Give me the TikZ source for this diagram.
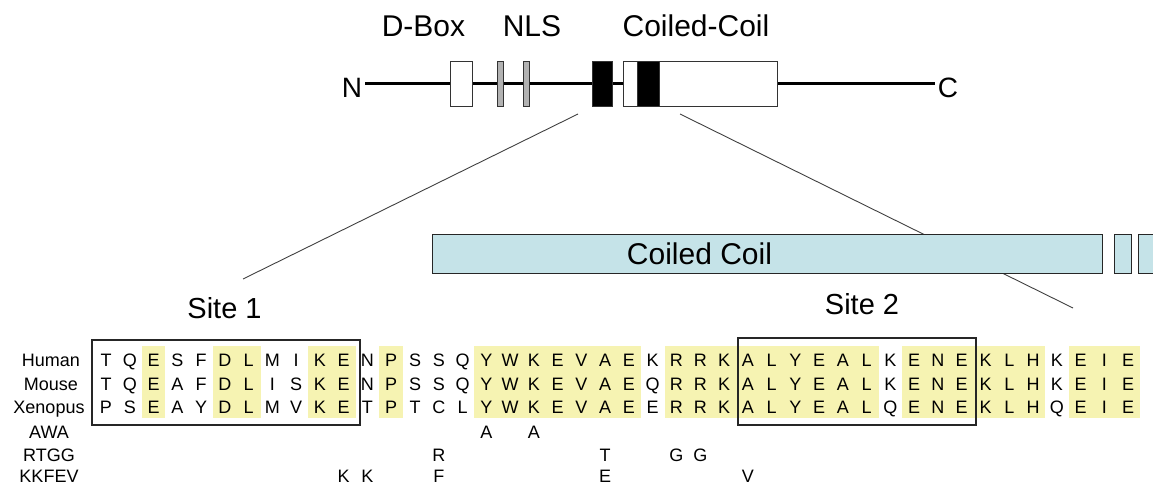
\documentclass[tikz,border=0pt]{standalone}
\usepackage{fontspec}
\setmainfont{Liberation Sans}
\usepackage{tikz}
\definecolor{hilite}{RGB}{246,243,178}
\definecolor{ccblue}{RGB}{197,227,232}
\definecolor{nlsgray}{RGB}{178,178,178}
\newcommand{\colx}[1]{106+23.77*(#1)}

\begin{document}
\begin{tikzpicture}[x=1pt, y=-1pt,
    domainbox/.style={rectangle, draw=black!80, fill=white, line width=0.9pt,
                   inner sep=0pt, minimum height=45pt},
    bigtext/.style={font=\fontsize{30}{34}\selectfont, anchor=base, inner sep=0pt},
    res/.style={font=\fontsize{18}{20}\selectfont, anchor=base, inner sep=0pt},
    sitebox/.style={rectangle, draw=black!85, line width=1.1pt, inner sep=0pt},
    bar/.style={rectangle, draw=black!85, fill=ccblue, line width=1pt,
                inner sep=0pt, minimum height=39pt},
    zoomline/.style={black!75, line width=0.9pt}
  ]
    \useasboundingbox (0,0) rectangle (1153,487);

    % protein overview
    \node[bigtext, font=\fontsize{28}{32}\selectfont] (nterm) at (352,97) {N};
    \node[bigtext, font=\fontsize{28}{32}\selectfont] (cterm) at (948,97) {C};
    \coordinate (mid) at (461,83.5);
    \draw[line width=3pt] ([xshift=3pt]nterm.east |- mid) -- ([xshift=-3pt]cterm.west |- mid);
    \node[domainbox, minimum width=22pt] (dbox) at (461,83.5) {};
    \node[domainbox, fill=nlsgray, minimum width=6pt] (nls1) at (500,83.5) {};
    \node[domainbox, fill=nlsgray, minimum width=6pt] (nls2) at (526,83.5) {};
    \node[domainbox, fill=black, minimum width=20pt] (site1blk) at (602,83.5) {};
    \node[domainbox, minimum width=154pt] (ccdom) at (700,83.5) {};
    \node[domainbox, fill=black, minimum width=22pt] (site2blk) at (648,83.5) {};

    \node[bigtext] (dboxlab) at (423.5,37) {D-Box};
    \node[bigtext] (nlslab) at (532,37) {NLS};
    \node[bigtext] (cclab) at (696,37) {Coiled-Coil};

    % zoom lines
    \coordinate (z1top) at (578,114);
    \coordinate (z1bot) at (243,279);
    \coordinate (z2top) at (680,114);
    \coordinate (z2bot) at (1073,308);
    \draw[zoomline] (z1top) -- (z1bot);
    \draw[zoomline] (z2top) -- (z2bot);

    % coiled coil bar
    \node[bar, minimum width=670pt] (ccbar) at (767,253.5) {};
    \node[bar, minimum width=17pt] (ccbar2) at (1122.5,253.5) {};
    \node[bar, minimum width=30pt] (ccbar3) at (1153,253.5) {};
    \node[bigtext] (ccname) at (699.5,264) {Coiled Coil};

    \node[bigtext, font=\fontsize{29}{32}\selectfont] (site1) at (224.5,318) {Site 1};
    \node[bigtext, font=\fontsize{29}{32}\selectfont] (site2) at (862,314) {Site 2};

    % conserved residues
    \foreach \a/\b in {2/2,5/6,9/10,12/12,16/22,24/32,34/39,41/43}
      \fill[hilite] ({\colx{\a-0.5}},346) rectangle ({\colx{\b+0.5}},418);

    % alignment
    \node[res] (human) at (51,366.5) {Human};
    \node[res] (mouse) at (51,390) {Mouse};
    \node[res] (xenopus) at (49,413.5) {Xenopus};
    \node[res] (awa) at (49,438) {AWA};
    \node[res] (rtgg) at (49,461) {RTGG};
    \node[res] (kkfev) at (49,482) {KKFEV};

    \foreach \aa [count=\i from 0] in {T,Q,E,S,F,D,L,M,I,K,E,N,P,S,S,Q,Y,W,K,E,V,A,E,K,R,R,K,A,L,Y,E,A,L,K,E,N,E,K,L,H,K,E,I,E}
      \node[res] (hu\i) at ({\colx{\i}},366.5) {\aa};
    \foreach \aa [count=\i from 0] in {T,Q,E,A,F,D,L,I,S,K,E,N,P,S,S,Q,Y,W,K,E,V,A,E,Q,R,R,K,A,L,Y,E,A,L,K,E,N,E,K,L,H,K,E,I,E}
      \node[res] (mo\i) at ({\colx{\i}},390) {\aa};
    \foreach \aa [count=\i from 0] in {P,S,E,A,Y,D,L,M,V,K,E,T,P,T,C,L,Y,W,K,E,V,A,E,E,R,R,K,A,L,Y,E,A,L,Q,E,N,E,K,L,H,Q,E,I,E}
      \node[res] (xe\i) at ({\colx{\i}},413.5) {\aa};

    % mutants
    \node[res] (awa1) at ({\colx{16}},438) {A};
    \node[res] (awa2) at ({\colx{18}},438) {A};
    \node[res] (rtgg1) at ({\colx{14}},461) {R};
    \node[res] (rtgg2) at ({\colx{21}},461) {T};
    \node[res] (rtgg3) at ({\colx{24}},461) {G};
    \node[res] (rtgg4) at ({\colx{25}},461) {G};
    \node[res] (kkfev1) at ({\colx{10}},482) {K};
    \node[res] (kkfev2) at ({\colx{11}},482) {K};
    \node[res] (kkfev3) at ({\colx{14}},482) {F};
    \node[res] (kkfev4) at ({\colx{21}},482) {E};
    \node[res] (kkfev5) at ({\colx{27}},482) {V};

    % binding sites
    \node[sitebox, minimum width=268pt, minimum height=85pt] (site1box) at (226,382.5) {};
    \node[sitebox, minimum width=238pt, minimum height=87pt] (site2box) at (857,381.5) {};
  \end{tikzpicture}
\end{document}
